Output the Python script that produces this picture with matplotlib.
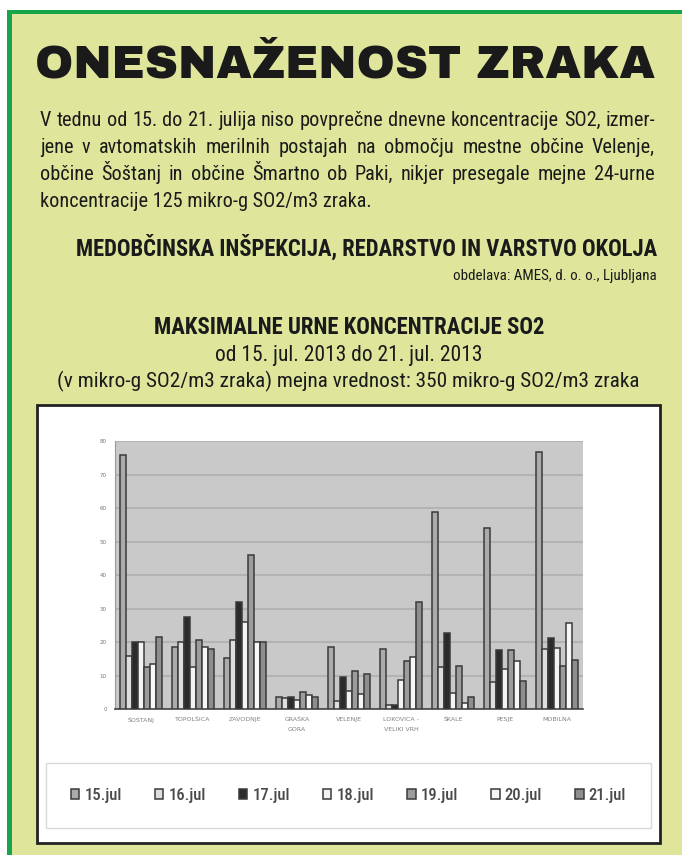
import numpy as np
import matplotlib
matplotlib.use("Agg")
import matplotlib.pyplot as plt
from matplotlib.patches import Rectangle

W, H = 682, 855

# postaje in dnevi
stations = ["ŠOŠTANJ", "TOPOLŠICA", "ZAVODNJE", "GRAŠKA\nGORA", "VELENJE",
            "LOKOVICA -\nVELIKI VRH", "ŠKALE", "PESJE", "MOBILNA"]
days = ["15.jul", "16.jul", "17.jul", "18.jul", "19.jul", "20.jul", "21.jul"]

# maksimalne urne koncentracije (mikro-g SO2/m3), po dnevih
jul15 = [75.8, 18.4, 15.2, 3.5, 18.4, 17.9, 58.9, 54.0, 76.8]
jul16 = [15.7, 19.9, 20.7, 3.2, 2.3, 1.3, 12.5, 8.0, 18.0]
jul17 = [20.0, 27.6, 31.8, 3.5, 9.7, 1.3, 22.7, 17.7, 21.2]
jul18 = [20.0, 12.5, 25.9, 2.8, 5.3, 8.7, 4.8, 12.0, 18.2]
jul19 = [12.5, 20.5, 45.9, 5.0, 11.2, 14.4, 12.7, 17.7, 12.7]
jul20 = [13.4, 18.5, 20.0, 4.2, 4.6, 15.4, 1.8, 14.4, 25.6]
jul21 = [21.4, 18.0, 20.0, 3.6, 10.4, 31.8, 3.5, 8.3, 14.7]
series = [jul15, jul16, jul17, jul18, jul19, jul20, jul21]

yticks = [0, 10, 20, 30, 40, 50, 60, 70, 80]

fills = ["#ababab", "#dedede", "#2b2b2b", "#f3f3f3", "#9c9c9c", "#f7f7f7", "#8e8e8e"]

cond_font = ["Roboto Condensed", "Barlow Condensed", "Archivo Narrow", "PT Sans Narrow", "DejaVu Sans"]
title_font = ["Archivo Black", "DejaVu Sans"]


def fx(x):
    return x / W


def fy(y):
    return 1 - y / H


fig = plt.figure(figsize=(W / 100, H / 100), dpi=100)
fig.patch.set_facecolor("white")
renderer = fig.canvas.get_renderer()


def fit_text(x, y, s, width, size=12, **kw):
    # napis, ki ga raztegnemo na dano sirino v pikslih
    t = fig.text(fx(x), fy(y), s, fontsize=size, **kw)
    w = t.get_window_extent(renderer).width
    t.set_fontsize(size * width / w)
    return t


def justify(x0, x1, y, s, size, **kw):
    # obojestranska poravnava - besedo po besedo
    words = s.split(" ")
    arts = [fig.text(0, fy(y), w_, fontsize=size, ha="left", va="baseline", **kw) for w_ in words]
    widths = [a.get_window_extent(renderer).width for a in arts]
    gap = (x1 - x0 - sum(widths)) / (len(words) - 1)
    pos = x0
    for a, w_ in zip(arts, widths):
        a.set_x(fx(pos))
        pos += w_ + gap


# ozadje strani
fig.add_artist(Rectangle((fx(7), 0), 1 - fx(7), fy(11), transform=fig.transFigure,
                         facecolor="#dfe69c", edgecolor="none", zorder=0))
fig.add_artist(Rectangle((fx(7), 0), fx(5), fy(10), transform=fig.transFigure,
                         facecolor="#17a44b", edgecolor="none", zorder=1))
fig.add_artist(Rectangle((fx(7), fy(14)), 1 - fx(7), 4 / H, transform=fig.transFigure,
                         facecolor="#17a44b", edgecolor="none", zorder=1))

# naslov
fit_text(345, 65, "ONESNAŽENOST ZRAKA", 620, size=34, ha="center", va="center",
         fontweight=900, family=title_font, color="#1a1a1a")

lines = [
    "V tednu od 15. do 21. julija niso povprečne dnevne koncentracije SO2, izmer-",
    "jene v avtomatskih merilnih postajah na območju mestne občine Velenje,",
    "občine Šoštanj in občine Šmartno ob Paki, nikjer presegale mejne 24-urne",
]
# velikost pisave po prvi vrstici
probe = fit_text(40, 120, lines[0], 612, size=14, family=cond_font)
body_size = probe.get_fontsize()
probe.remove()
for i, t in enumerate(lines):
    justify(40, 655, 126 + i * 27, t, body_size, family=cond_font, color="#1a1a1a")
fig.text(fx(40), fy(126 + 3 * 27), "koncentracije 125 mikro-g SO2/m3 zraka.", ha="left",
         va="baseline", fontsize=body_size, family=cond_font, color="#1a1a1a")

fit_text(657, 248, "MEDOBČINSKA INŠPEKCIJA, REDARSTVO IN VARSTVO OKOLJA", 580, size=13,
         ha="right", va="center", fontweight="bold", family=cond_font, color="#1a1a1a")
fit_text(657, 276, "obdelava: AMES, d. o. o., Ljubljana", 204, size=9, ha="right", va="center",
         family=cond_font, color="#1a1a1a")

fit_text(349, 328, "MAKSIMALNE URNE KONCENTRACIJE SO2", 390, size=13, ha="center", va="center",
         fontweight="bold", family=cond_font, color="#1a1a1a")
fit_text(349, 355, "od 15. jul. 2013 do 21. jul. 2013", 268, size=13, ha="center", va="center",
         family=cond_font, color="#1a1a1a")
fit_text(348, 381, "(v mikro-g SO2/m3 zraka) mejna vrednost: 350 mikro-g SO2/m3 zraka", 579,
         size=13, ha="center", va="center", family=cond_font, color="#1a1a1a")

# okvir grafa
fig.add_artist(Rectangle((fx(37), fy(843)), fx(660 - 37), (843 - 405) / H,
                         transform=fig.transFigure, facecolor="white",
                         edgecolor="#222222", linewidth=2, zorder=1))

ax = fig.add_axes([fx(115), fy(709), fx(583 - 115), (709 - 441) / H])
ax.set_zorder(3)
ax.set_facecolor("#c9c9c9")

x = np.arange(len(stations))
n = len(series)
bw = 0.8 / n
handles = []
for i, vals in enumerate(series):
    b = ax.bar(x - 0.4 + bw * (i + 0.5), vals, width=bw, color=fills[i],
               edgecolor="#3a3a3a", linewidth=1.1, label=days[i], zorder=3)
    handles.append(b)

ax.set_ylim(0, 80)
ax.set_xlim(-0.5, len(stations) - 0.5)
ax.set_yticks(yticks)
ax.set_yticklabels([str(v) for v in yticks], fontsize=4, color="#777777")
ax.set_xticks(x)
ax.set_xticklabels(stations, fontsize=4.5, color="#808080", linespacing=2.2)
ax.tick_params(axis="both", length=0, pad=6)
ax.yaxis.grid(True, color="#b3b3b3", linewidth=1.5, zorder=0)
ax.set_axisbelow(True)
for s in ["top", "right"]:
    ax.spines[s].set_visible(False)
ax.spines["left"].set_color("#999999")
ax.spines["bottom"].set_color("#444444")
ax.spines["bottom"].set_linewidth(1.2)

leg = fig.legend(handles=handles, labels=days, loc="lower left", ncol=7, mode="expand",
                 bbox_to_anchor=(fx(46), fy(828), fx(651 - 46), (828 - 765) / H),
                 frameon=True, fancybox=False, handlelength=0.5,
                 handleheight=0.5, handletextpad=0.3, borderaxespad=0, borderpad=1.5,
                 prop={"family": cond_font, "size": 12, "weight": "medium"})
leg.get_frame().set_edgecolor("#d0d0d0")
leg.get_frame().set_linewidth(1.0)
for t in leg.get_texts():
    t.set_color("#4a4a4a")
leg.set_zorder(4)

fig.savefig("out.png", dpi=100, facecolor=fig.get_facecolor())
